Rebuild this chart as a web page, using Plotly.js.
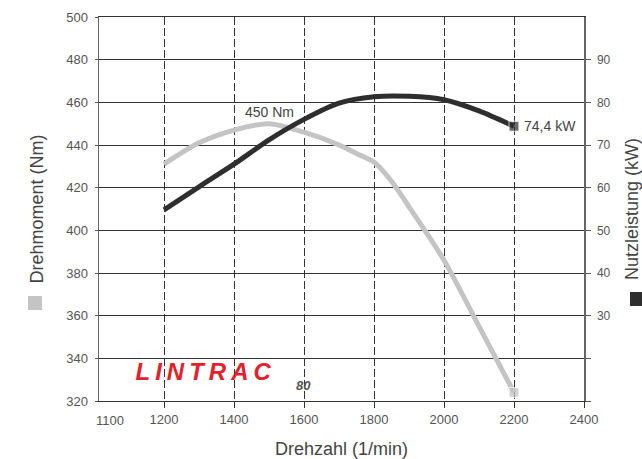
<!DOCTYPE html>
<html><head><meta charset="utf-8">
<script src="https://cdn.plot.ly/plotly-3.0.1.min.js"></script>
<style>html,body{margin:0;padding:0;background:#fff}</style>
</head><body><div id="chart" style="width:642px;height:459px"></div>
<script>
// ---- data ----
const rpmTorque = [1200, 1300, 1400, 1500, 1600, 1700, 1750, 1800, 1850, 1900, 2000, 2100, 2200];
const torqueNm  = [431, 441, 447, 450, 446, 440, 436, 432, 423, 411, 386, 355, 324];
const rpmPower  = [1200, 1300, 1400, 1500, 1600, 1700, 1800, 1900, 2000, 2100, 2200];
const powerKW   = [54.8, 60.2, 65.5, 71.2, 76.0, 79.8, 81.3, 81.4, 80.6, 78.0, 74.4];
const xTickVals = [1200, 1400, 1600, 1800, 2000, 2200, 2400];
const xTickText = ['1200', '1400', '1600', '1800', '2000', '2200', '2400'];
const xFirstLabel = '1100';
const yLeftTicks = [320, 340, 360, 380, 400, 420, 440, 460, 480, 500];
const yRightTicks = [10, 20, 30, 40, 50, 60, 70, 80, 90];
const yRightText = ['', '', '30', '40', '50', '60', '70', '80', '90'];
const peakTorqueLabel = '450 Nm';
const peakPowerLabel = '74,4 kW';
const titleX = 'Drehzahl (1/min)';
const titleYLeft = 'Drehmoment (Nm)';
const titleYRight = 'Nutzleistung (kW)';
const brand = 'LINTRAC';
const brandModel = '80';

const FONT = 'Liberation Sans, Arial, sans-serif';
const GRAY = '#c4c4c4';
const DARK = '#2e2e2e';

const lastSize = (arr) => arr.map((v, i) => i === arr.length - 1 ? 10 : 0);

const traces = [
  {
    x: rpmTorque, y: torqueNm, type: 'scatter', mode: 'lines+markers',
    line: {color: GRAY, width: 5, shape: 'spline', smoothing: 0.8},
    marker: {symbol: 'square', color: GRAY, size: lastSize(rpmTorque)},
    yaxis: 'y', hoverinfo: 'x+y', name: titleYLeft
  },
  {
    x: rpmPower, y: powerKW, type: 'scatter', mode: 'lines+markers',
    line: {color: DARK, width: 5, shape: 'spline', smoothing: 0.8},
    marker: {symbol: 'square', color: DARK, size: lastSize(rpmPower)},
    yaxis: 'y2', hoverinfo: 'x+y', name: titleYRight
  }
];

const ix = rpmTorque.indexOf(1500);
const layout = {
  width: 642, height: 459,
  margin: {l: 99, r: 58, t: 17, b: 58},
  paper_bgcolor: '#fff', plot_bgcolor: '#fff',
  showlegend: false,
  font: {family: FONT, color: '#555', size: 13},
  xaxis: {
    range: [1014.3, 2400],
    tickvals: xTickVals, ticktext: xTickText,
    ticks: 'outside', ticklen: 6, tickcolor: '#333', tickwidth: 1,
    showgrid: true, gridcolor: '#333', gridwidth: 1, griddash: '8px,3px',
    showline: true, linecolor: '#333', linewidth: 1, mirror: true,
    zeroline: false,
    tickfont: {size: 13, color: '#555', family: FONT},
    title: {text: titleX, font: {size: 18, color: '#444', family: FONT}, standoff: 16}
  },
  yaxis: {
    range: [320, 500],
    tickvals: yLeftTicks,
    ticks: 'outside', ticklen: 3, tickcolor: '#555',
    ticklabelstandoff: 4,
    showgrid: true, gridcolor: '#333', gridwidth: 1,
    showline: true, linecolor: '#666', linewidth: 1.5,
    zeroline: false,
    tickfont: {size: 13, color: '#555', family: FONT},
    title: {text: titleYLeft, font: {size: 18, color: '#444', family: FONT}, standoff: 18}
  },
  yaxis2: {
    range: [10, 100], overlaying: 'y', side: 'right',
    tickvals: yRightTicks, ticktext: yRightText,
    ticks: 'outside', ticklen: 5, tickcolor: '#555',
    ticklabelstandoff: 4,
    showgrid: false,
    showline: true, linecolor: '#666', linewidth: 1.5,
    zeroline: false,
    tickfont: {size: 12, color: '#555', family: FONT},
    title: {text: titleYRight, font: {size: 18, color: '#444', family: FONT}, standoff: 27}
  },
  annotations: [
    {x: 1046, y: 0, xref: 'x', yref: 'paper', text: xFirstLabel, showarrow: false,
     yanchor: 'top', yshift: -10, font: {size: 13, color: '#555', family: FONT}},
    {x: rpmTorque[ix], y: torqueNm[ix], xref: 'x', yref: 'y', text: peakTorqueLabel,
     showarrow: false, yanchor: 'bottom', yshift: 2, font: {size: 14, color: '#444', family: FONT}},
    {x: rpmPower[rpmPower.length - 1], y: powerKW[powerKW.length - 1], xref: 'x', yref: 'y2',
     text: peakPowerLabel, showarrow: false, xanchor: 'left', xshift: 8,
     font: {size: 14, color: '#444', family: FONT}},
    {x: 0.2206, y: 0.077, xref: 'paper', yref: 'paper', text: brand,
     showarrow: false, xanchor: 'center', yanchor: 'middle',
     font: {size: 24, color: '#e4212a', family: FONT, weight: 'bold', style: 'italic'}},
    {x: 0.402, y: 0.04, xref: 'paper', yref: 'paper', text: brandModel,
     showarrow: false, xanchor: 'left', yanchor: 'middle',
     font: {size: 13, color: '#555', family: FONT, weight: 'bold', style: 'italic'}}
  ],
  shapes: [
    {type: 'rect', xref: 'paper', yref: 'paper', x0: -0.1464, x1: -0.1175, y0: 0.237, y1: 0.2734,
     fillcolor: GRAY, line: {width: 0}},
    {type: 'rect', xref: 'paper', yref: 'paper', x0: 1.0948, x1: 1.1237, y0: 0.2474, y1: 0.2839,
     fillcolor: DARK, line: {width: 0}}
  ]
};

Plotly.newPlot('chart', traces, layout, {displayModeBar: false, staticPlot: true}).then(() => {
  document.querySelectorAll('.annotation-text').forEach(t => {
    if (t.textContent === brand) {
      t.setAttribute('letter-spacing', '5px');
    }
  });
});
</script>
</body></html>
